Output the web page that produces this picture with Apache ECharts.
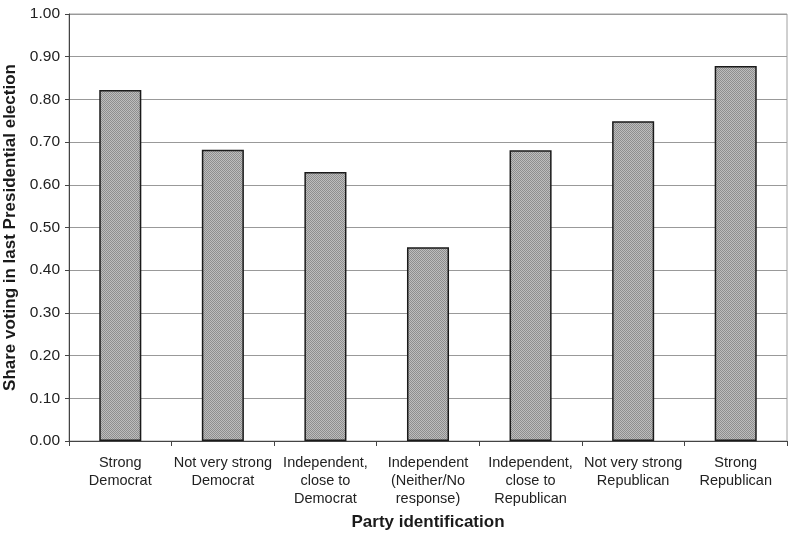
<!DOCTYPE html>
<html><head><meta charset="utf-8">
<script src="https://cdn.jsdelivr.net/npm/echarts@6/dist/echarts.min.js"></script>
<style>html,body{margin:0;padding:0;background:#fff}#c{width:791px;height:533px}</style>
</head><body><div id="c"></div>
<script>
var categories = ["Strong\nDemocrat","Not very strong\nDemocrat","Independent,\nclose to\nDemocrat","Independent\n(Neither/No\nresponse)","Independent,\nclose to\nRepublican","Not very strong\nRepublican","Strong\nRepublican"];
var shareVoting = [0.822, 0.682, 0.630, 0.454, 0.681, 0.749, 0.878];
var yTitle = "Share voting in last Presidential election";
var xTitle = "Party identification";

var pc = document.createElement('canvas');
pc.width = 4; pc.height = 4;
var ctx = pc.getContext('2d');
ctx.fillStyle = '#bdbdbd'; ctx.fillRect(0,0,4,4);
ctx.fillStyle = '#8e8e8e';
ctx.fillRect(0,0,1,1); ctx.fillRect(2,0,1,1); ctx.fillRect(1,1,1,1); ctx.fillRect(3,1,1,1);
ctx.fillRect(0,2,1,1); ctx.fillRect(2,2,1,1); ctx.fillRect(1,3,1,1); ctx.fillRect(3,3,1,1);

var chart = echarts.init(document.getElementById('c'), null, {renderer:'canvas'});
chart.setOption({
  animation:false,
  backgroundColor:'#fff',
  grid:{left:69, right:4, top:14, bottom:92, containLabel:false, outerBoundsMode:'none', show:true, borderColor:'#a0a0a0', borderWidth:1},
  xAxis:{
    type:'category', data:categories,
    name:xTitle, nameLocation:'middle', nameGap:73,
    nameTextStyle:{fontFamily:'Liberation Sans, Arial', fontSize:17, fontWeight:'bold', color:'#1a1a1a'},
    axisLine:{lineStyle:{color:'#444', width:1}},
    axisTick:{show:true, length:5, lineStyle:{color:'#444'}},
    axisLabel:{interval:0, margin:13, fontFamily:'Liberation Sans, Arial', fontSize:14.5, color:'#222', lineHeight:18}
  },
  yAxis:{
    type:'value', min:0, max:1, interval:0.1,
    name:yTitle, nameLocation:'middle', nameGap:42, nameRotate:90,
    nameTextStyle:{fontFamily:'Liberation Sans, Arial', fontSize:17, fontWeight:'bold', color:'#1a1a1a'},
    axisLine:{show:true, lineStyle:{color:'#444', width:1}},
    axisTick:{show:true, length:4, lineStyle:{color:'#444'}},
    axisLabel:{formatter:function(v){return v.toFixed(2);}, margin:9, fontFamily:'Liberation Sans, Arial', fontSize:15.5, color:'#222'},
    splitLine:{show:true, lineStyle:{color:'#999', width:1}}
  },
  series:[{
    type:'bar', data:shareVoting, barWidth:'41%',
    itemStyle:{color:{image:pc, repeat:'repeat'}, borderColor:'#1a1a1a', borderWidth:1.5}
  }]
});
</script></body></html>
